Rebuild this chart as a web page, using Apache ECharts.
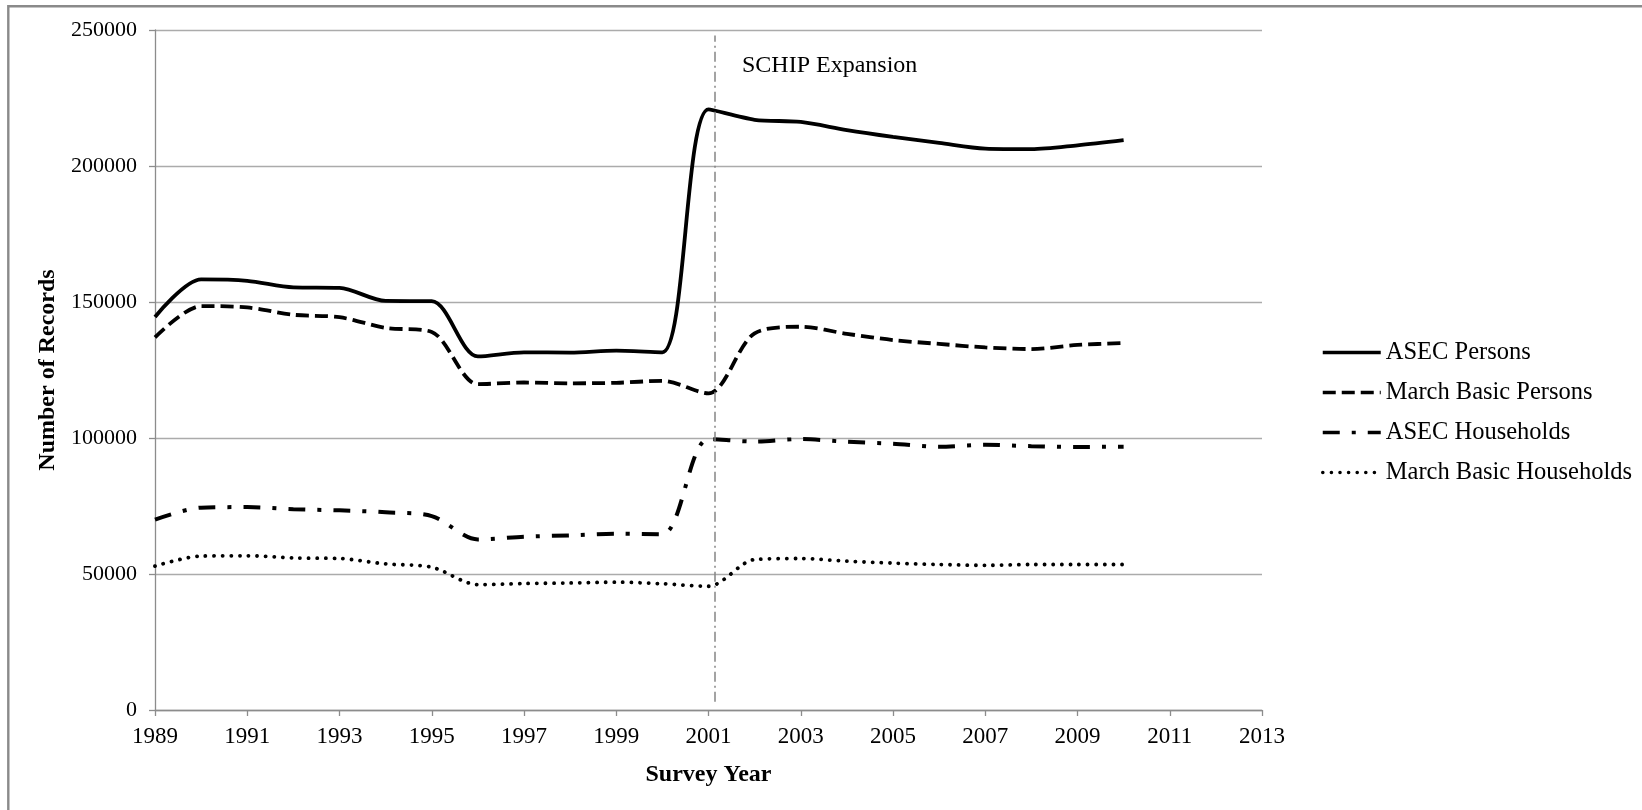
<!DOCTYPE html>
<html>
<head>
<meta charset="utf-8">
<title>Number of Records by Survey Year</title>
<script src="https://cdn.jsdelivr.net/npm/echarts@6.0.0/dist/echarts.min.js"></script>
<style>
  html, body { margin: 0; padding: 0; background: #fff; }
  #chart { width: 1642px; height: 810px; }
</style>
</head>
<body>
<div id="chart"></div>
<script>
// survey years (one point per year)
const years = [1989, 1990, 1991, 1992, 1993, 1994, 1995, 1996, 1997, 1998, 1999,
  2000, 2001, 2002, 2003, 2004, 2005, 2006, 2007, 2008, 2009, 2010];

const asecPersons = [144500, 158300, 157800, 155400, 155200, 150400, 150300, 130000, 131500, 131400, 132100,
  131500, 220800, 217000, 216200, 213200, 210700, 208500, 206400, 206200, 207600, 209500];
const marchBasicPersons = [137000, 148500, 148000, 145300, 144400, 140500, 139000, 119800, 120400, 120100, 120300,
  121000, 116400, 138500, 140900, 138300, 136000, 134600, 133300, 132700, 134200, 134900];
const asecHouseholds = [70000, 74400, 74600, 73800, 73400, 72700, 71300, 62700, 63700, 64200, 64800,
  64600, 99600, 98700, 99600, 98600, 97900, 96800, 97500, 97000, 96700, 96800];
const marchBasicHouseholds = [52900, 56600, 56700, 55900, 55700, 53700, 52500, 46100, 46500, 46700, 47000,
  46400, 45500, 55300, 55700, 54700, 54000, 53500, 53200, 53500, 53500, 53500];

const seriesNames = ["ASEC Persons", "March Basic Persons", "ASEC Households", "March Basic Households"];

// axis range / ticks
const xMin = 1989, xMax = 2013, xStep = 2;
const yMin = 0, yMax = 250000, yStep = 50000;

// SCHIP expansion marker
const schipYear = 2001.13;
const schipFrom = 3000, schipTo = 248000;
const schipText = "SCHIP Expansion";

const font = "'Liberation Serif', 'Times New Roman', serif";

let pairs = (vals) => years.map((y, i) => [y, vals[i]]);

let lineSeries = (name, vals, lineStyle) => ({
  name: name,
  type: "line",
  data: pairs(vals),
  smooth: 0.3,
  symbol: "none",
  showSymbol: false,
  silent: true,
  lineStyle: Object.assign({ color: "#000" }, lineStyle),
  itemStyle: { color: "#000" },
});

let series = [
  lineSeries(seriesNames[0], asecPersons, { width: 3.8, type: "solid" }),
  lineSeries(seriesNames[1], marchBasicPersons, { width: 3.8, type: [13, 6] }),
  lineSeries(seriesNames[2], asecHouseholds, { width: 4, type: [17, 12, 4, 12] }),
  lineSeries(seriesNames[3], marchBasicHouseholds, { width: 3.8, type: [0.1, 8.5], cap: "round" }),
];

series[0].markLine = {
  silent: true,
  symbol: ["none", "none"],
  label: { show: false },
  lineStyle: { color: "#858585", width: 1.5, type: [10, 4, 2, 4] },
  data: [[{ coord: [schipYear, schipFrom] }, { coord: [schipYear, schipTo] }]],
};

let myEchart = echarts.init(document.getElementById("chart"));

let options = {
  animation: false,
  backgroundColor: "#fff",
  textStyle: { fontFamily: font, color: "#000" },
  grid: { left: 155, right: 380, top: 30, bottom: 100, containLabel: false, outerBoundsMode: "none" },
  legend: {
    orient: "vertical",
    left: 1316,
    top: 335,
    itemWidth: 58,
    itemHeight: 14,
    itemGap: 15,
    data: seriesNames,
    selectedMode: false,
    // hide the symbol the line legend icon draws in the middle
    itemStyle: { opacity: 0 },
    lineStyle: { width: 3.5 },
    textStyle: { fontFamily: font, fontSize: 24.5, color: "#000" },
  },
  xAxis: {
    type: "value",
    min: xMin,
    max: xMax,
    interval: xStep,
    name: "Survey Year",
    nameLocation: "middle",
    nameGap: 53,
    nameTextStyle: { fontFamily: font, fontSize: 24, fontWeight: "bold", color: "#000" },
    axisLine: { show: true, onZero: false, lineStyle: { color: "#8c8c8c", width: 1.3 } },
    axisTick: { show: true, inside: false, length: 6, lineStyle: { color: "#8c8c8c", width: 1.3 } },
    axisLabel: {
      fontFamily: font, fontSize: 23, color: "#000", margin: 15,
      formatter: (v) => String(v),
    },
    splitLine: { show: false },
  },
  yAxis: {
    type: "value",
    min: yMin,
    max: yMax,
    interval: yStep,
    name: "Number of Records",
    nameLocation: "middle",
    nameGap: 90,
    nameTextStyle: { fontFamily: font, fontSize: 24, fontWeight: "bold", color: "#000" },
    axisLine: { show: true, lineStyle: { color: "#8c8c8c", width: 1.3 } },
    axisTick: { show: true, inside: false, length: 6, lineStyle: { color: "#8c8c8c", width: 1.3 } },
    axisLabel: {
      fontFamily: font, fontSize: 22, color: "#000", margin: 18,
      formatter: (v) => String(v),
    },
    splitLine: { show: true, lineStyle: { color: "#ababab", width: 1.3 } },
  },
  graphic: [
    {
      // outer frame (only left and top edges fall inside the picture)
      type: "rect",
      silent: true,
      shape: { x: 8.3, y: 6.3, width: 1700, height: 900 },
      style: { fill: "none", stroke: "#8a8a8a", lineWidth: 2.4 },
    },
    {
      type: "text",
      silent: true,
      left: 742,
      top: 54,
      style: { text: schipText, font: "24px " + font, fill: "#000" },
    },
  ],
  series: series,
};

myEchart.setOption(options);
</script>
</body>
</html>
